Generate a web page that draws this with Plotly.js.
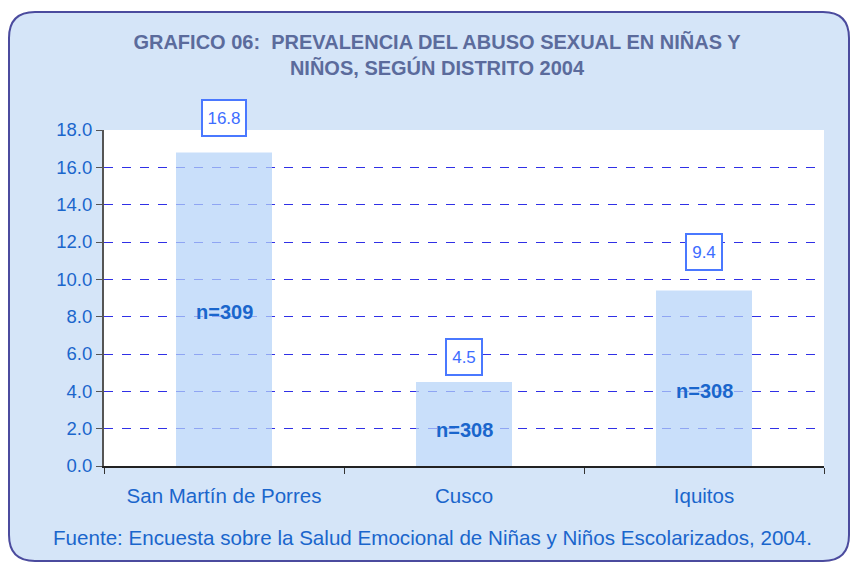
<!DOCTYPE html>
<html>
<head>
<meta charset="utf-8">
<script src="https://cdn.plot.ly/plotly-3.0.1.min.js"></script>
<style>html,body{margin:0;padding:0;background:#fff;}#chart{width:850px;height:563px;}</style>
</head>
<body>
<div id="chart"></div>
<script>
// ---- data ----
const districts = ["San Martín de Porres", "Cusco", "Iquitos"];
const prevalence = [16.8, 4.5, 9.4];
const sampleLabels = ["n=309", "n=308", "n=308"];
const sampleLabelY = [8.26, 1.93, 4.03];
const yTickValues = [0, 2, 4, 6, 8, 10, 12, 14, 16, 18];

// ---- styling / layout ----
const W = 850, H = 563;
const mL = 104, mR = 26, mT = 130, mB = 97;
const pw = W - mL - mR, ph = H - mT - mB;
const valueLabelShift = [15, 6, 20];
function px2x(px){ return (px - mL) / pw; }
function py2y(py){ return (H - mB - py) / ph; }
function roundRect(x0, y0, x1, y1, r){
  const rx = r / pw, ry = r / ph;
  const X0 = px2x(x0), X1 = px2x(x1), Y0 = py2y(y0), Y1 = py2y(y1);
  return `M${X0+rx},${Y0} L${X1-rx},${Y0} Q${X1},${Y0} ${X1},${Y0-ry} L${X1},${Y1+ry} Q${X1},${Y1} ${X1-rx},${Y1} L${X0+rx},${Y1} Q${X0},${Y1} ${X0},${Y1+ry} L${X0},${Y0-ry} Q${X0},${Y0} ${X0+rx},${Y0} Z`;
}

const FONT = 'Arial, Liberation Sans, sans-serif';
const blueText = '#1a66cc';

const trace = {
  type: 'bar',
  x: districts,
  y: prevalence,
  marker: { color: 'rgba(180,210,248,0.72)', line: { width: 0 } },
  hoverinfo: 'x+y'
};

const annotations = [];
prevalence.forEach((v, i) => {
  annotations.push({
    x: districts[i], y: v, xref: 'x', yref: 'y',
    text: v.toFixed(1), showarrow: false, yanchor: 'bottom', yshift: valueLabelShift[i],
    width: v >= 10 ? 36 : 28, height: 28,
    font: { family: FONT, size: 17, color: '#3d6dff' },
    bgcolor: '#ffffff', bordercolor: '#4a78ff', borderwidth: 2, borderpad: 3
  });
  annotations.push({
    x: districts[i], y: sampleLabelY[i], xref: 'x', yref: 'y',
    text: '<b>' + sampleLabels[i] + '</b>', showarrow: false,
    font: { family: FONT, size: 20, color: blueText }
  });
});
annotations.push({
  xref: 'paper', yref: 'paper', x: px2x(432), y: py2y(537),
  xanchor: 'center', yanchor: 'middle',
  text: 'Fuente: Encuesta sobre la Salud Emocional de Niñas y Niños Escolarizados, 2004.',
  showarrow: false,
  font: { family: FONT, size: 20.6, color: blueText }
});

const layout = {
  width: W, height: H,
  margin: { l: mL, r: mR, t: mT, b: mB },
  paper_bgcolor: '#ffffff',
  plot_bgcolor: 'rgba(0,0,0,0)',
  showlegend: false,
  bargap: 0.6,
  title: {
    text: '<b>GRAFICO 06:  PREVALENCIA DEL ABUSO SEXUAL EN NIÑAS Y<br>NIÑOS, SEGÚN DISTRITO 2004</b>',
    x: 437 / W, xanchor: 'center', yref: 'container', y: 1 - 49 / H, yanchor: 'top',
    font: { family: FONT, size: 20, color: '#5b6b9c' }
  },
  xaxis: {
    type: 'category',
    showline: true, linecolor: '#222222', linewidth: 1.5,
    ticks: 'outside', tickson: 'boundaries', ticklen: 6, tickcolor: '#333333',
    ticklabelstandoff: 11,
    showgrid: false, zeroline: false,
    tickfont: { family: FONT, size: 20.5, color: blueText },
    fixedrange: true
  },
  yaxis: {
    range: [0, 18], tickvals: yTickValues, tickformat: '.1f',
    showline: true, linecolor: '#555555', linewidth: 2,
    ticks: 'outside', ticklen: 6, tickcolor: '#555555',
    showgrid: true, gridcolor: '#3030e6', gridwidth: 1, griddash: 'dash',
    zeroline: false,
    tickfont: { family: FONT, size: 18.5, color: blueText },
    fixedrange: true
  },
  shapes: [
    { type: 'path', xref: 'paper', yref: 'paper', layer: 'below',
      path: roundRect(9, 12, 849, 561, 26),
      fillcolor: '#d5e5f8', line: { color: '#4b4b9e', width: 2 } },
    { type: 'rect', xref: 'paper', yref: 'paper', layer: 'below',
      x0: 0, x1: 1, y0: 0, y1: 1, fillcolor: '#ffffff', line: { width: 0 } }
  ],
  annotations: annotations
};

Plotly.newPlot('chart', [trace], layout, { displayModeBar: false, staticPlot: true });
</script>
</body>
</html>
